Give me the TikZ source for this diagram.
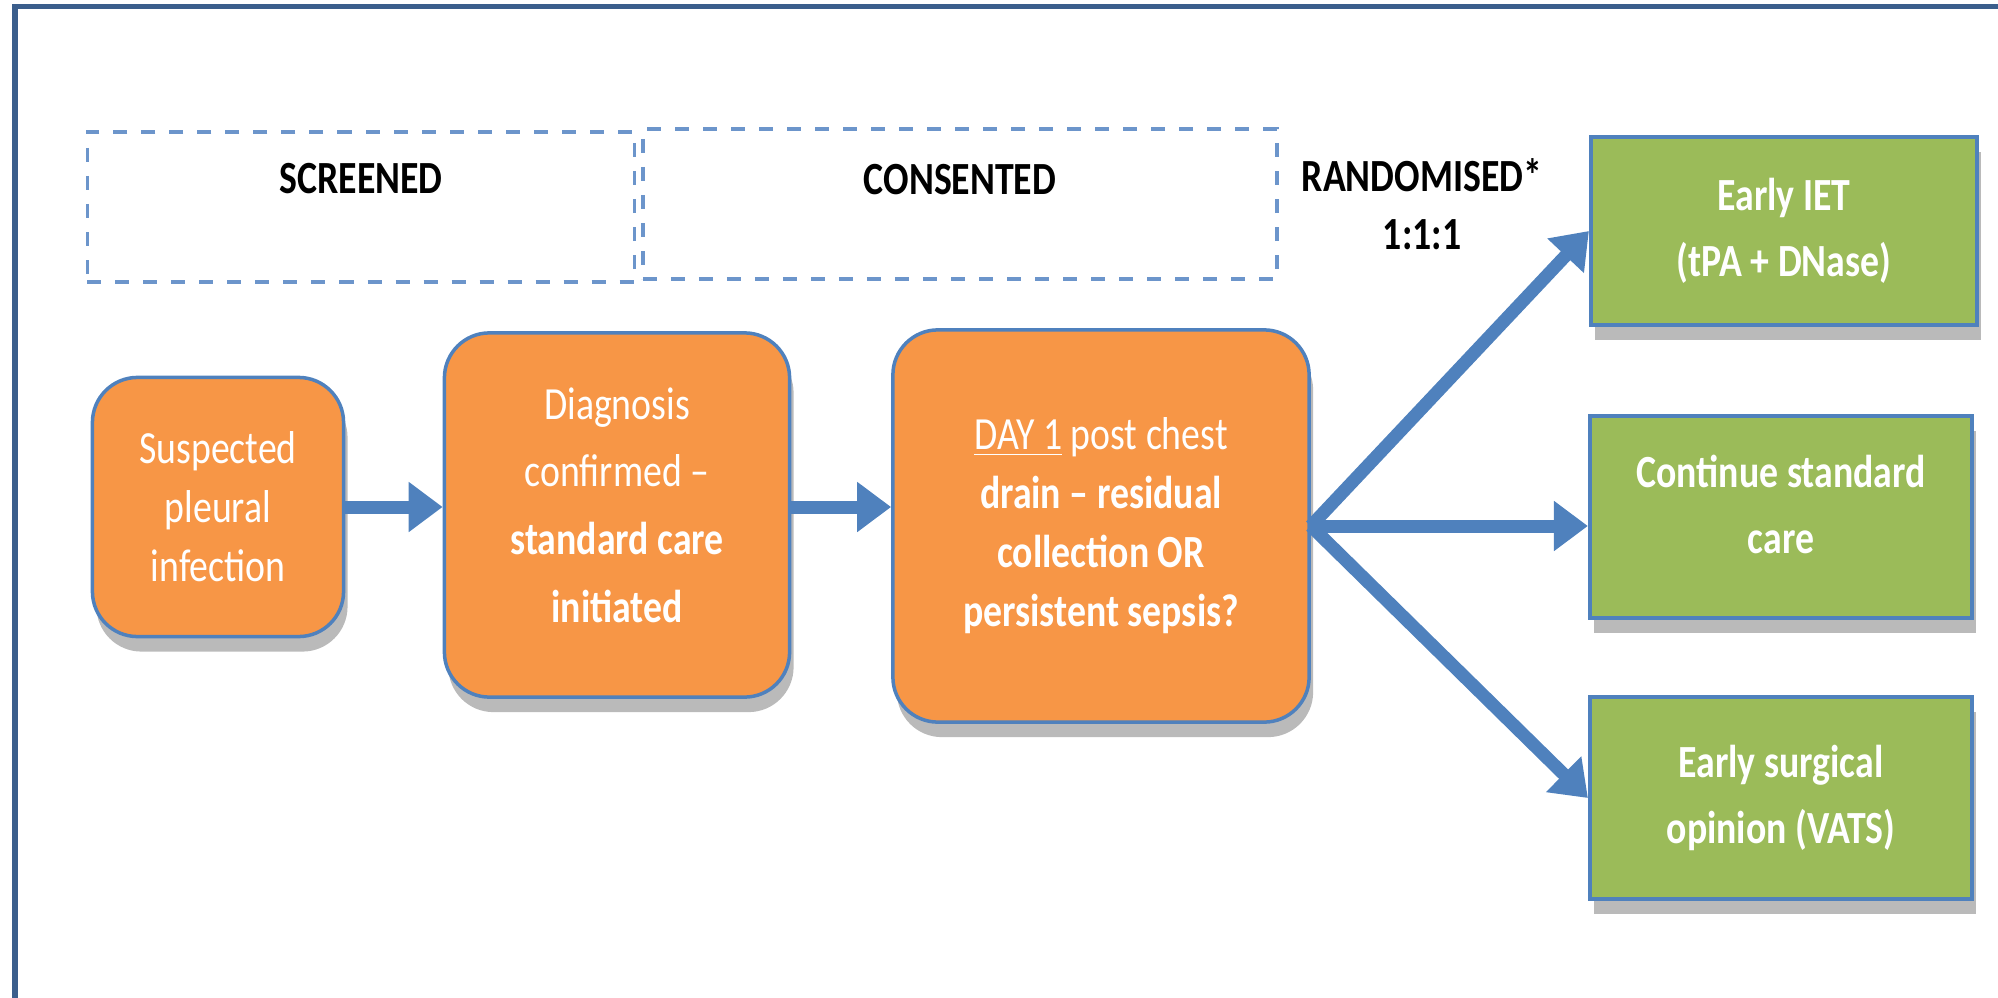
\documentclass[tikz,border=0pt]{standalone}
\usepackage{fontspec}
\setmainfont{Carlito}[FakeStretch=0.82]
\usetikzlibrary{arrows.meta,shadows}
\definecolor{boxorange}{HTML}{F79646}
\definecolor{boxgreen}{HTML}{9BBB59}
\definecolor{edgeblue}{HTML}{4F81BD}
\definecolor{frameblue}{HTML}{3B5E8C}
\definecolor{dashblue}{HTML}{6C95CB}
\tikzset{
    boxshadow/.style = {
        drop shadow={shadow xshift=0.04cm, shadow yshift=-0.15cm, fill=black!45, opacity=0.6}
    },
    stage/.style = {
        rectangle, rounded corners=0.45cm,
        fill=boxorange, draw=edgeblue, line width=0.035cm,
        text=white, align=center,
        font=\fontsize{13.1}{16.8}\selectfont,
        boxshadow
    },
    arm/.style = {
        rectangle, fill=boxgreen, draw=edgeblue, line width=0.04cm,
        text=white, align=center,
        font=\bfseries\fontsize{13.1}{18.8}\selectfont,
        minimum width=3.82cm, minimum height=2.01cm,
        boxshadow
    },
    phase/.style = {
        rectangle, draw=dashblue, line width=0.035cm,
        dash pattern=on 0.14cm off 0.14cm
    },
    head/.style = {
        font=\bfseries\fontsize{13.1}{16.5}\selectfont,
        align=center
    },
    flow/.style = {
        draw=edgeblue, line width=0.13cm,
        -{Triangle[length=0.34cm,width=0.48cm]}
    },
    pageframe/.style = {
        draw=frameblue, line width=0.05cm
    }
}

\begin{document}
\begin{tikzpicture}[x=0.01cm,y=-0.01cm]
    \useasboundingbox (0,0) rectangle (1998,997);
    \clip (0,0) rectangle (1998,997);
    \newcommand\GX{1781}

    % Frame
    \draw[pageframe] (2010,7) -- (15,7) -- (15,1010);

    % Phases
    \node[phase, minimum width=5.47cm, minimum height=1.50cm] (screened) at (361,207) {};
    \node[phase, minimum width=6.34cm, minimum height=1.50cm] (consented) at (960,204) {};
    \node[head] (screenedtxt) at (361,179) {SCREENED};
    \node[head] (consentedtxt) at (960,180) {CONSENTED};
    \node[head] (randtxt) at (1422,204) {RANDOMISED*\\1:1:1};

    % Pathway
    \node[stage, minimum width=2.51cm, minimum height=2.59cm] (suspected) at (218,507)
        {Suspected\\pleural\\infection};
    \node[stage, minimum width=3.45cm, minimum height=3.64cm, text depth=0.2cm,
          font=\fontsize{13.1}{19.3}\selectfont] (diagnosis) at (617,515)
        {Diagnosis\\confirmed –\\\textbf{standard care}\\\textbf{initiated}};
    \node[stage, minimum width=4.16cm, minimum height=3.92cm] (dayone) at (1101,526)
        {\underline{DAY 1} post chest\\\textbf{drain – residual}\\\textbf{collection OR}\\\textbf{persistent sepsis?}};

    % Arms
    \node[arm, minimum width=3.86cm, minimum height=1.88cm] (iet) at (\GX+3,231)
        {Early IET\\(tPA + DNase)};
    \node[arm, text depth=0.26cm] (standard) at (\GX,517) {Continue standard\\care};
    \node[arm] (vats) at (\GX,798) {Early surgical\\opinion (VATS)};

    % Arrows
    \draw[flow] (suspected.east) -- (suspected.east -| diagnosis.west);
    \draw[flow] (suspected.east -| diagnosis.east) -- (suspected.east -| dayone.west);
    \draw[flow] (dayone.east) -- (iet.west);
    \draw[flow] (dayone.east) -- (dayone.east -| standard.west);
    \draw[flow] (dayone.east) -- (vats.west);
\end{tikzpicture}
\end{document}
